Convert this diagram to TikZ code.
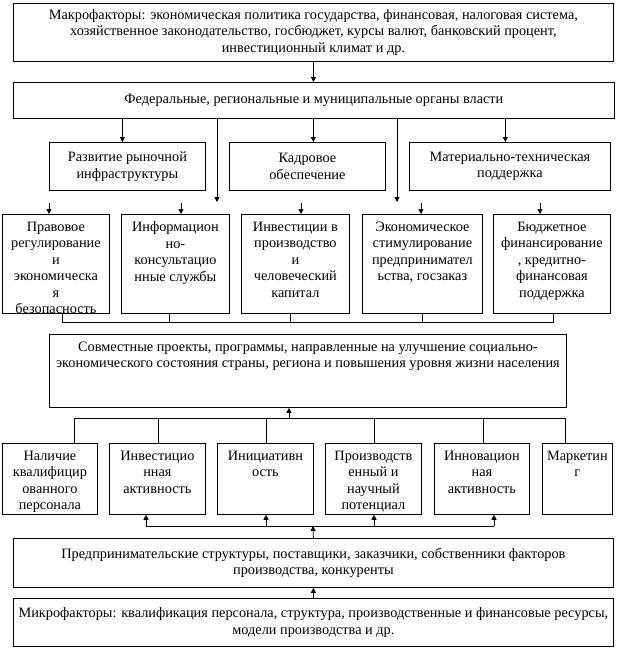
\documentclass[tikz,border=0pt]{standalone}
\usepackage{fontspec}
\setmainfont{Liberation Serif}
\usetikzlibrary{arrows.meta}

\newcommand{\midcell}[3]{\parbox[c][#2][c]{#1}{\centering #3}}
\newcommand{\topcell}[3]{\parbox[c][#2][t]{#1}{\centering\vspace*{7.5pt}#3}}

\tikzset{
  box/.style={draw, anchor=north west, inner sep=0pt, font=\fontsize{14.3}{16.5}\selectfont},
  arr/.style={-{Triangle[length=5pt,width=5pt]}}
}

\begin{document}
\begin{tikzpicture}[x=1pt,y=-1pt,line width=0.8pt]
  \useasboundingbox (0,0) rectangle (626,648);
  % macro level
  \node[box] (makro) at (13,3) {\midcell{600pt}{58pt}{Макрофакторы: экономическая политика государства, финансовая, налоговая система,\\хозяйственное законодательство, госбюджет, курсы валют, банковский процент,\\инвестиционный климат и др.}};
  \node[box] (fed) at (13,82) {\midcell{601pt}{36pt}{Федеральные, региональные и муниципальные органы власти}};
  \node[box] (razv) at (49,142) {\midcell{156pt}{48pt}{Развитие рыночной\\инфраструктуры}};
  \node[box] (kadr) at (229,142) {\midcell{156pt}{48pt}{Кадровое\\обеспечение}};
  \node[box] (mat) at (409,142) {\midcell{201pt}{48pt}{Материально-техническая\\поддержка}};
  \node[box] (pravo) at (2,214) {\topcell{107pt}{99pt}{Правовое\\регулирование\\и\\экономическа\\я\\безопасность}};
  \node[box] (info) at (121,214) {\topcell{108pt}{99pt}{Информацион\\но-\\консультацио\\нные службы}};
  \node[box] (invest) at (241,214) {\topcell{108pt}{99pt}{Инвестиции в\\производство\\и\\человеческий\\капитал}};
  \node[box] (econ) at (362,214) {\topcell{120pt}{99pt}{Экономическое\\стимулирование\\предпринимател\\ьства, госзаказ}};
  \node[box] (budg) at (493,214) {\topcell{117pt}{99pt}{Бюджетное\\финансирование\\, кредитно-\\финансовая\\поддержка}};
  \node[box] (sovm) at (49,334) {\topcell{517pt}{73pt}{Совместные проекты, программы, направленные на улучшение социально-\\экономического состояния страны, региона и повышения уровня жизни населения}};
  % micro level
  \node[box] (nal) at (2,443) {\topcell{95pt}{71pt}{Наличие\\квалифицир\\ованного\\персонала}};
  \node[box] (inva) at (109,443) {\topcell{96pt}{71pt}{Инвестицио\\нная\\активность}};
  \node[box] (inic) at (217,443) {\topcell{96pt}{71pt}{Инициативн\\ость}};
  \node[box] (proiz) at (325,443) {\topcell{96pt}{71pt}{Производств\\енный и\\научный\\потенциал}};
  \node[box] (innov) at (434,443) {\topcell{95pt}{71pt}{Инновацион\\ная\\активность}};
  \node[box] (mark) at (542,443) {\topcell{70pt}{71pt}{Маркетин\\г}};
  \node[box] (pred) at (13,538) {\midcell{600pt}{49pt}{Предпринимательские структуры, поставщики, заказчики, собственники факторов\\производства, конкуренты}};
  \node[box] (micro) at (13,598) {\midcell{600pt}{48pt}{Микрофакторы: квалификация персонала, структура, производственные и финансовые ресурсы,\\модели производства и др.}};

  \coordinate (l1) at (217,202);
  \coordinate (l2) at (397,202);
  \foreach \x/\n in {49/s1,181/s2,301/s3,421/s4,540/s5} \coordinate (\n) at (\x,203);
  \foreach \x/\n in {62/t1,169/t2,290/t3,422/t4,553/t5} \coordinate (\n) at (\x,322);
  \foreach \x/\n in {289/u0,74/u1,158/u2,266/u3,374/u4,483/u5,565/u6} \coordinate (\n) at (\x,418);
  \foreach \x/\n in {313/v0,146/v1,266/v2,374/v3,494/v4} \coordinate (\n) at (\x,526);

  \draw[arr] (makro.south) -- (makro.south |- fed.north);
  \draw[arr] ([xshift=-5pt]razv.north |- fed.south) -- ([xshift=-5pt]razv.north);
  \draw[arr] ([xshift=6pt]kadr.north |- fed.south) -- ([xshift=6pt]kadr.north);
  \draw[arr] ([xshift=-4.5pt]mat.north |- fed.south) -- ([xshift=-4.5pt]mat.north);
  \draw[arr] (l1 |- fed.south) -- (l1);
  \draw[arr] (l2 |- fed.south) -- (l2);
  \foreach \c/\n in {s1/pravo,s2/info,s3/invest,s4/econ,s5/budg}
    \draw[arr] (\c) -- (\c |- \n.north);

  \draw (t1 |- pravo.south) -- (t1) -- (t5) -- (t5 |- budg.south);
  \foreach \c/\n in {t2/info,t3/invest,t4/econ}
    \draw (\c |- \n.south) -- (\c);

  \draw (u1 |- nal.north) -- (u1) -- (u6) -- (u6 |- mark.north);
  \foreach \c/\n in {u2/inva,u3/inic,u4/proiz,u5/innov}
    \draw (\c) -- (\c |- \n.north);
  \draw[arr] (u0) -- (u0 |- sovm.south);

  \draw (v1) -- (v4);
  \foreach \c/\n in {v1/inva,v2/inic,v3/proiz,v4/innov}
    \draw[arr] (\c) -- (\c |- \n.south);
  \draw[arr] (pred.north) -- (v0);
  \draw[arr] (micro.north) -- (pred.south);
\end{tikzpicture}
\end{document}
